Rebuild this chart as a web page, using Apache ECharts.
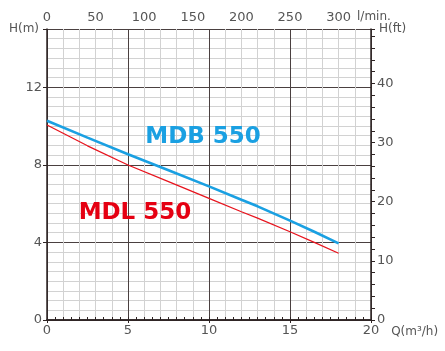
<!DOCTYPE html>
<html>
<head>
<meta charset="utf-8">
<script src="https://cdn.jsdelivr.net/npm/echarts@6/dist/echarts.min.js"></script>
<style>
  html, body { margin: 0; padding: 0; background: #fff; }
  #chart { width: 445px; height: 351px; }
</style>
</head>
<body>
<div id="chart"></div>
<script>
// 流量 Q (m³/h) 与扬程 H (m)
var flowQ = [0, 2.5, 5, 7.5, 10, 12, 13, 15, 16.5, 18];
var headMDB = [10.27, 9.4, 8.54, 7.72, 6.89, 6.2, 5.86, 5.12, 4.55, 3.95];
var headMDL = [10.05, 8.98, 7.99, 7.13, 6.27, 5.58, 5.25, 4.55, 4.0, 3.44];

var qTicks = [0, 5, 10, 15, 20];
var hTicks = [0, 4, 8, 12];
var ftTicks = [0, 10, 20, 30, 40];
var lpmTicks = [0, 50, 100, 150, 200, 250, 300];

var Q_MAX = 20, H_MAX = 15, M_TO_FT = 3.28084;

var dark = '#2e2424';
var light = '#d2d2d2';
var txt = '#555';
var font = 'DejaVu Sans';

function pairs(xs, ys) {
  return xs.map(function (x, i) { return [x, ys[i]]; });
}
function near(v, list) {
  for (var i = 0; i < list.length; i++) if (Math.abs(v - list[i]) < 1e-6) return true;
  return false;
}

var chart = echarts.init(document.getElementById('chart'));

var option = {
  animation: false,
  grid: { left: 47, right: 74, top: 29, bottom: 31 },
  xAxis: [
    {
      type: 'value', position: 'bottom', min: 0, max: Q_MAX, interval: 5,
      name: 'Q(m³/h)', nameLocation: 'end', nameGap: 4,
      nameTextStyle: { color: txt, fontFamily: font, fontSize: 12, align: 'left', verticalAlign: 'top', padding: [6, 0, 0, 0] },
      axisLine: { lineStyle: { color: dark, width: 1.5 } },
      axisTick: { show: true, length: 3, lineStyle: { color: dark } },
      axisLabel: {
        color: txt, fontFamily: font, fontSize: 13, margin: 4,
        formatter: function (v) { return near(v, qTicks) ? String(v) : ''; }
      },
      splitLine: { show: true, lineStyle: { color: '#4a4040', width: 1 } },
      minorTick: { show: false, splitNumber: 5 },
      minorSplitLine: { show: true, lineStyle: { color: light, width: 1 } }
    },
    {
      // 上方 l/min 刻度，每 0.5 m³/h 一个小刻度
      type: 'value', position: 'top', min: 0, max: Q_MAX, interval: 0.5,
      axisLine: { lineStyle: { color: dark, width: 1.5 } },
      axisTick: { show: true, inside: false, length: 3, lineStyle: { color: dark } },
      axisLabel: {
        color: txt, fontFamily: font, fontSize: 13, margin: 5,
        formatter: function (v) {
          var l = Math.round(v * 1000 / 60);
          return (near(v * 1000 / 60, lpmTicks)) ? String(l) : '';
        }
      },
      splitLine: { show: false }
    }
  ],
  yAxis: [
    {
      // 0.5 m 浅色网格
      type: 'value', position: 'left', min: 0, max: H_MAX, interval: 0.5,
      axisLine: { show: false }, axisTick: { show: false }, axisLabel: { show: false },
      splitLine: { show: true, lineStyle: { color: light, width: 1 } }
    },
    {
      type: 'value', position: 'left', min: 0, max: H_MAX, interval: 4,
      name: 'H(m)', nameLocation: 'end', nameGap: 0, nameMoveOverlap: false,
      nameTextStyle: { color: txt, fontFamily: font, fontSize: 12, align: 'right', verticalAlign: 'middle', padding: [0, 8, 0, 0] },
      axisLine: { show: true, lineStyle: { color: dark, width: 1.5 } },
      axisTick: { show: true, length: 4, lineStyle: { color: dark } },
      axisLabel: {
        color: txt, fontFamily: font, fontSize: 13, margin: 5,
        formatter: function (v) { return near(v, hTicks) ? String(v) : ''; }
      },
      splitLine: { show: true, lineStyle: { color: '#4a4040', width: 1 } }
    },
    {
      type: 'value', position: 'right', min: 0, max: H_MAX * M_TO_FT, interval: 2,
      name: 'H(ft)', nameLocation: 'end', nameGap: 0, nameMoveOverlap: false,
      nameTextStyle: { color: txt, fontFamily: font, fontSize: 12, align: 'left', verticalAlign: 'middle', padding: [0, 0, 0, 8] },
      axisLine: { show: true, lineStyle: { color: dark, width: 1.5 } },
      axisTick: { show: true, length: 4, lineStyle: { color: dark } },
      axisLabel: {
        color: txt, fontFamily: font, fontSize: 13, margin: 6,
        formatter: function (v) { return near(v, ftTicks) ? String(v) : ''; }
      },
      splitLine: { show: false }
    }
  ],
  series: [
    {
      name: 'MDL 550', type: 'line', xAxisIndex: 0, yAxisIndex: 1,
      data: pairs(flowQ, headMDL), symbol: 'none', smooth: false,
      lineStyle: { color: '#e8141e', width: 1.3 },
      markPoint: {
        symbol: 'circle', symbolSize: 0, silent: true,
        label: { show: true, formatter: 'MDL 550', color: '#e50012', fontFamily: font, fontWeight: 'bold', fontSize: 23 },
        data: [{ coord: [5.43, 5.5] }]
      },
      z: 3
    },
    {
      name: 'MDB 550', type: 'line', xAxisIndex: 0, yAxisIndex: 1,
      data: pairs(flowQ, headMDB), symbol: 'none', smooth: false,
      lineStyle: { color: '#1aa0e2', width: 2.6 },
      markPoint: {
        symbol: 'circle', symbolSize: 0, silent: true,
        label: { show: true, formatter: 'MDB 550', color: '#1aa0e2', fontFamily: font, fontWeight: 'bold', fontSize: 23 },
        data: [{ coord: [9.63, 9.43] }]
      },
      z: 4
    }
  ]
};

chart.setOption(option);

// 上轴单位 l/min.，放在 300 刻度右侧
var endX = chart.convertToPixel({ xAxisIndex: 1 }, Q_MAX);
var topY = chart.convertToPixel({ yAxisIndex: 1 }, H_MAX);
chart.setOption({
  graphic: [{
    type: 'text', left: endX - 14, top: topY - 18, silent: true,
    style: { text: 'l/min.', fill: txt, font: '12px "DejaVu Sans"' }
  }]
});
</script>
</body>
</html>
